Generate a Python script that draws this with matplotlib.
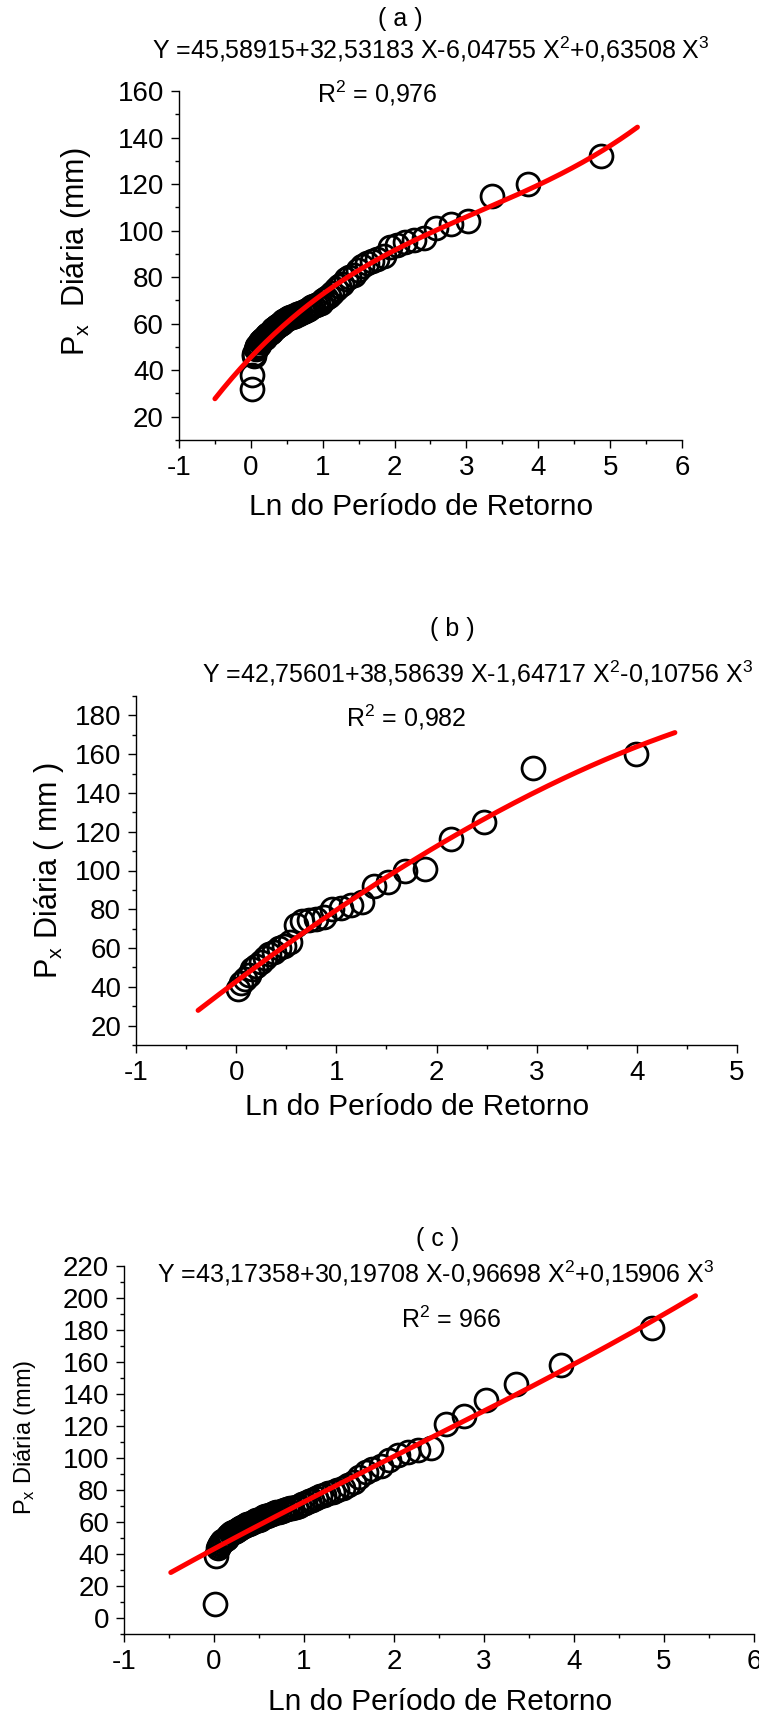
import numpy as np
import matplotlib
matplotlib.use('Agg')
import matplotlib.pyplot as plt
from matplotlib.ticker import MultipleLocator

plt.rcParams['font.family'] = ['Liberation Sans', 'DejaVu Sans']
plt.rcParams['mathtext.fontset'] = 'custom'
plt.rcParams['mathtext.rm'] = 'Liberation Sans'
plt.rcParams['mathtext.it'] = 'Liberation Sans:italic'
plt.rcParams['axes.unicode_minus'] = False

# Ln do periodo de retorno - series (a) and (c), 73 values
x_ac = [4.87, 3.85, 3.35, 3.02, 2.78, 2.58, 2.41, 2.27, 2.15, 2.04,
        1.94, 1.85, 1.76, 1.69, 1.61, 1.55, 1.49, 1.43, 1.37, 1.32,
        1.27, 1.22, 1.18, 1.13, 1.09, 1.05, 1.01, 0.98, 0.94, 0.91,
        0.87, 0.84, 0.81, 0.78, 0.75, 0.72, 0.69, 0.67, 0.64, 0.61,
        0.59, 0.57, 0.54, 0.52, 0.50, 0.47, 0.45, 0.43, 0.41, 0.39,
        0.37, 0.35, 0.33, 0.31, 0.29, 0.28, 0.26, 0.24, 0.22, 0.21,
        0.19, 0.17, 0.16, 0.14, 0.13, 0.11, 0.09, 0.08, 0.07, 0.05,
        0.04, 0.02, 0.01]
y_a = [132, 120, 115, 104, 103, 101, 97, 96, 95, 94,
       93, 89, 88, 87, 86, 85, 83, 81, 80, 79,
       77, 76, 75, 73, 72, 71, 70, 69, 68.5, 68,
       67.5, 67, 66.5, 66, 65.5, 65, 64.5, 64, 64, 63.5,
       63.5, 63, 63, 62.5, 62, 61.5, 61, 60.5, 60, 59.5,
       59, 58.5, 58, 57.5, 57, 56.5, 56, 55.5, 55, 54.5,
       54, 53.5, 53, 52.5, 52, 51, 50.5, 50, 49, 47,
       46, 38, 32]
y_c = [181, 158, 146, 136, 126, 121, 106, 105, 104, 102,
       99, 95, 93, 91, 88, 85, 83, 81, 80, 79,
       78, 77, 76, 75, 74, 73, 72, 71, 70, 69.5,
       69, 68.5, 68, 67.5, 67, 66.5, 66, 65.5, 65, 64.5,
       64, 63.5, 63, 62, 61.5, 61, 60.5, 60, 59.5, 59,
       58.5, 58, 57.5, 57, 56, 55.5, 55, 54.5, 54, 53.5,
       53, 52, 51, 50, 49.5, 49, 48, 47, 46, 45,
       44, 39, 9]

# series (b), 30 values
x_b = [3.99, 2.96, 2.47, 2.14, 1.89, 1.69, 1.52, 1.38, 1.26, 1.15,
       1.05, 0.96, 0.88, 0.80, 0.73, 0.66, 0.60, 0.54, 0.48, 0.43,
       0.38, 0.33, 0.29, 0.25, 0.20, 0.16, 0.13, 0.09, 0.05, 0.02]
y_b = [160, 153, 125, 116, 101, 100, 94, 92, 84, 82,
       80.5, 80, 76, 75, 74.5, 74, 72, 63, 61, 60,
       58, 57, 55, 53, 51, 49, 46, 44, 42, 39]

# polynomial fits shown on the chart (c0, c1, c2, c3)
coef_a = [45.58915, 32.53183, -6.04755, 0.63508]
coef_b = [42.75601, 38.58639, -1.64717, -0.10756]
coef_c = [43.17358, 30.19708, -0.96698, 0.15906]

W, H = 759, 1714
fig = plt.figure(figsize=(W / 100, H / 100), dpi=100)


def box(left, right, top, bottom):
    return [left / W, 1 - bottom / H, (right - left) / W, (bottom - top) / H]


def panel(pos, x, y, coef, xr, xlim, ylim):
    ax = fig.add_axes(pos)
    ax.plot(x, y, 'o', mfc='none', mec='black', ms=16.5, mew=2.0, zorder=2)
    xs = np.linspace(xr[0], xr[1], 200)
    ax.plot(xs, np.polyval(coef[::-1], xs), color='red', lw=3.6,
            solid_capstyle='round', zorder=3)
    ax.set_xlim(*xlim)
    ax.set_ylim(*ylim)
    ax.spines['top'].set_visible(False)
    ax.spines['right'].set_visible(False)
    for s in ('left', 'bottom'):
        ax.spines[s].set_linewidth(1.0)
    ax.xaxis.set_major_locator(MultipleLocator(1))
    ax.xaxis.set_minor_locator(MultipleLocator(0.5))
    ax.yaxis.set_major_locator(MultipleLocator(20))
    ax.yaxis.set_minor_locator(MultipleLocator(10))
    ax.tick_params(which='major', direction='out', length=5.8, width=1,
                   labelsize=20, pad=5)
    ax.tick_params(which='minor', direction='out', length=2.9, width=1)
    return ax


panel(box(179, 682, 91, 440), x_ac, y_a, coef_a, (-0.5, 5.38), (-1, 6), (10, 160))
panel(box(136, 737, 696, 1045), x_b, y_b, coef_b, (-0.38, 4.38), (-1, 5), (10, 190))
panel(box(124, 754, 1266, 1634), x_ac, y_c, coef_c, (-0.48, 5.35), (-1, 6), (-10, 220))


def put(x, y, s, size=18, **kw):
    fig.text(x / W, 1 - y / H, s, fontsize=size, ha='center', va='baseline', **kw)


# panel (a)
put(400, 26, '( a )')
put(431, 58, 'Y =45,58915+32,53183 X-6,04755 X$^{2}$+0,63508 X$^{3}$')
put(377, 102, 'R$^{2}$ = 0,976')
put(421, 515, 'Ln do Período de Retorno', size=21.5)
fig.text(76 / W, 1 - 252 / H, 'P$_{\\mathrm{x}}$  Diária (mm)', fontsize=22,
         rotation=90, ha='center', va='center')

# panel (b)
put(452, 636, '( b )')
put(478, 683, 'Y =42,75601+38,58639 X-1,64717 X$^{2}$-0,10756 X$^{3}$')
put(406, 727, 'R$^{2}$ = 0,982')
put(417, 1115, 'Ln do Período de Retorno', size=21.5)
fig.text(49 / W, 1 - 870 / H, 'P$_{\\mathrm{x}}$ Diária ( mm )', fontsize=22,
         rotation=90, ha='center', va='center')

# panel (c)
put(438, 1246, '( c )')
put(436, 1283, 'Y =43,17358+30,19708 X-0,96698 X$^{2}$+0,15906 X$^{3}$')
put(451, 1328, 'R$^{2}$ = 966')
put(440, 1710, 'Ln do Período de Retorno', size=21.5)
fig.text(25 / W, 1 - 1437 / H, 'P$_{\\mathrm{x}}$ Diária (mm)', fontsize=17,
         rotation=90, ha='center', va='center')

fig.savefig('out.png', dpi=100)
